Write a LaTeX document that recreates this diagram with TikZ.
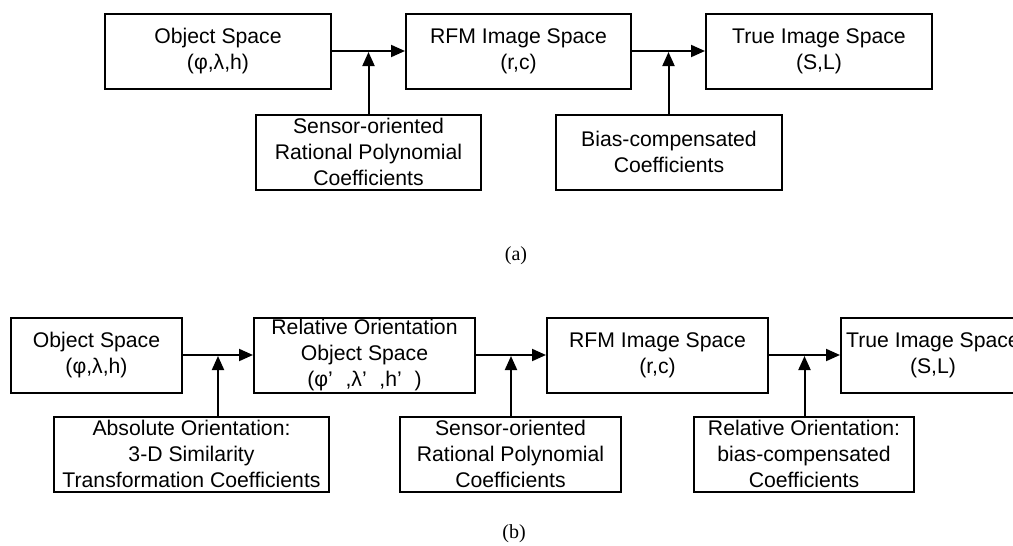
\documentclass[tikz,border=0pt]{standalone}
\usepackage{fontspec}
\setmainfont{Liberation Sans}
\newfontfamily\capfont{Liberation Serif}
\usetikzlibrary{arrows.meta,calc}

\tikzset{
  blk/.style={draw=black, line width=2pt, fill=white, align=center,
    inner sep=0pt, minimum height=75pt,
    font=\fontsize{21.2}{26}\selectfont},
  arr/.style={line width=2pt, -{Triangle[length=14pt,width=12pt]}},
  sublabel/.style={font=\capfont\fontsize{20}{22}\selectfont}
}

\begin{document}
\begin{tikzpicture}[x=1pt,y=-1pt]
\useasboundingbox (0,0) rectangle (1013,546);
\clip (0,0) rectangle (1013,546);

% ---------- (a) direct RFM chain ----------
\node[blk, minimum width=226pt] (objA)  at (218,51)   {Object Space\\(φ,λ,h)};
\node[blk, minimum width=225pt] (rfmA)  at (518.5,51) {RFM Image Space\\(r,c)};
\node[blk, minimum width=226pt] (trueA) at (819,51)   {True Image Space\\(S,L)};
\node[blk, minimum width=225pt] (sensA) at (368.5,152){Sensor-oriented\\Rational Polynomial\\Coefficients};
\node[blk, minimum width=226pt] (biasA) at (669,152)  {Bias-compensated\\Coefficients};

\draw[arr] (objA.east) -- (rfmA.west);
\draw[arr] (rfmA.east) -- (trueA.west);
\coordinate (jA1) at ($(objA.east)!0.5!(rfmA.west)$);
\coordinate (jA2) at ($(rfmA.east)!0.5!(trueA.west)$);
\draw[arr] (sensA.north -| jA1) -- ([yshift=-1pt]jA1);
\draw[arr] (biasA.north -| jA2) -- ([yshift=-1pt]jA2);

\node[sublabel] (labA) at (516,256) {(a)};

% ---------- (b) chain with relative orientation ----------
\node[blk, minimum width=171pt] (objB)  at (96.5,355)  {Object Space\\(φ,λ,h)};
\node[blk, minimum width=221pt] (roB)   at (364.5,355) {Relative Orientation\\Object Space\\(φ’\hspace{0.6em},λ’\hspace{0.6em},h’\hspace{0.6em})};
\node[blk, minimum width=221pt] (rfmB)  at (657.5,355) {RFM Image Space\\(r,c)};
\node[blk, minimum width=184pt] (trueB) at (933,355)   {True Image Space\\(S,L)};
\node[blk, minimum width=275pt] (absB)  at (191.5,454) {Absolute Orientation:\\3-D Similarity\\Transformation Coefficients};
\node[blk, minimum width=221pt] (sensB) at (510.5,454) {Sensor-oriented\\Rational Polynomial\\Coefficients};
\node[blk, minimum width=220pt] (relB)  at (804,454)   {Relative Orientation:\\bias-compensated\\Coefficients};

\draw[arr] (objB.east) -- (roB.west);
\draw[arr] (roB.east) -- (rfmB.west);
\draw[arr] (rfmB.east) -- (trueB.west);
\coordinate (jB1) at ($(objB.east)!0.5!(roB.west)$);
\coordinate (jB2) at ($(roB.east)!0.5!(rfmB.west)$);
\coordinate (jB3) at ($(rfmB.east)!0.5!(trueB.west)$);
\draw[arr] (absB.north -| jB1) -- ([yshift=-1pt]jB1);
\draw[arr] (sensB.north -| jB2) -- ([yshift=-1pt]jB2);
\draw[arr] (relB.north -| jB3) -- ([yshift=-1pt]jB3);

\node[sublabel] (labB) at (514,534) {(b)};
\end{tikzpicture}
\end{document}
